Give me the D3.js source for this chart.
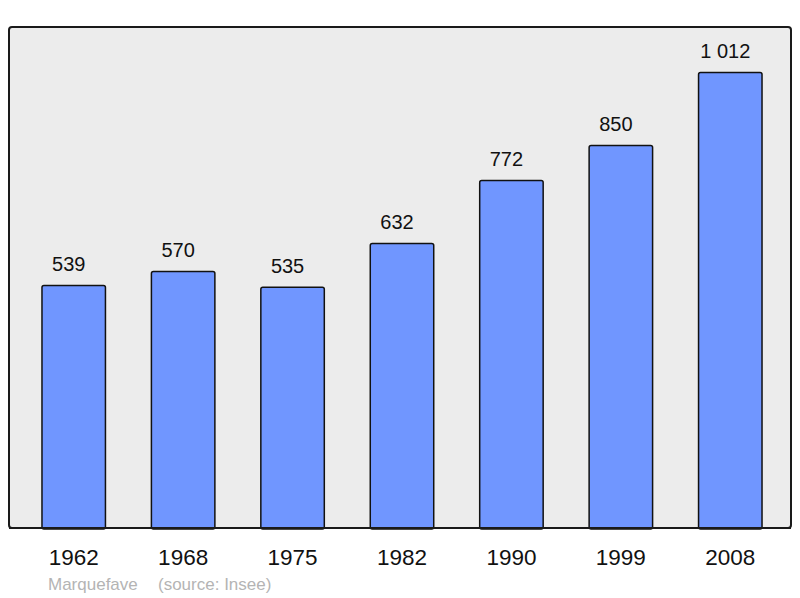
<!DOCTYPE html>
<html><head><meta charset="utf-8">
<script src="https://cdn.jsdelivr.net/npm/d3@7"></script>
<style>body{margin:0;background:#fff}svg{display:block}</style>
</head><body>
<svg id="c" width="800" height="598"></svg>
<script>
const years = ["1962","1968","1975","1982","1990","1999","2008"];
const population = [539,570,535,632,772,850,1012];
const valueLabels = ["539","570","535","632","772","850","1 012"];
const footerParts = ["Marquefave", "(source: Insee)"];

(function(){
const svg = d3.select("#c");
const font = "Liberation Sans, Arial, sans-serif";
const pLeft = 9, pRight = 791, pTop = 27, pBottom = 528;
svg.append("rect").attr("x",pLeft).attr("y",pTop).attr("width",pRight-pLeft).attr("height",pBottom-pTop)
  .attr("rx",3).attr("fill","#ececec").attr("stroke","#1a1a1a").attr("stroke-width",2);

const x = d3.scaleBand().domain(years).range([19,785]).paddingInner(0.42).paddingOuter(0.21);
const y = d3.scaleLinear().domain([0, d3.max(population)*1.1]).range([pBottom, pTop]);

const g = svg.append("g");
g.selectAll("rect.bar").data(population).join("rect").attr("class","bar")
  .attr("x",(d,i)=>x(years[i])).attr("y",d=>y(d))
  .attr("width",x.bandwidth()).attr("height",d=>pBottom-y(d)+1)
  .attr("rx",2).attr("fill","#7096ff").attr("stroke","#111").attr("stroke-width",1.5);

g.selectAll("text.val").data(population).join("text").attr("class","val")
  .attr("x",(d,i)=>x(years[i])+x.bandwidth()/2 - 5).attr("y",d=>y(d)-14.5)
  .attr("text-anchor","middle").attr("font-family",font)
  .attr("font-size",20).attr("fill","#111").text((d,i)=>valueLabels[i]);

svg.append("line").attr("x1",pLeft).attr("x2",pRight).attr("y1",pBottom).attr("y2",pBottom)
  .attr("stroke","#1a1a1a").attr("stroke-width",2);

const xAxis = d3.axisBottom(x).tickSize(0).tickPadding(0);
const ax = svg.append("g").attr("transform",`translate(0,${pBottom})`).call(xAxis);
ax.select(".domain").remove();
ax.selectAll("text").attr("font-family",font).attr("font-size",22.5)
  .attr("fill","#111").attr("dy",null).attr("y",37);

svg.selectAll("text.foot").data(footerParts).join("text").attr("class","foot")
  .attr("x",(d,i)=>i===0?48:158).attr("y",590).attr("font-family",font)
  .attr("font-size",17).attr("fill","#b4b4b4").text(d=>d);
})();
</script>
</body></html>
